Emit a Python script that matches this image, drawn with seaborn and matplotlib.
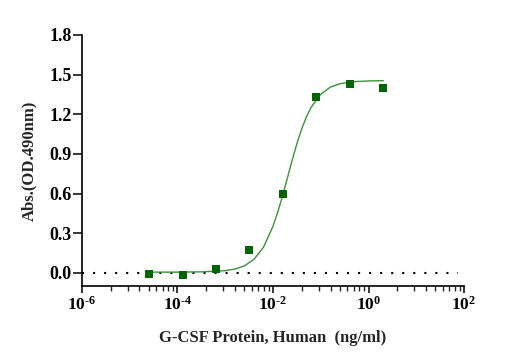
import numpy as np
import pandas as pd
import matplotlib
matplotlib.use("Agg")
import matplotlib.pyplot as plt
import matplotlib.ticker as mticker
import seaborn as sns

# ============================================================
# DATA
# ============================================================

conc_ng_ml = [0.0000256, 0.000128, 0.00064, 0.0032, 0.016, 0.08, 0.4, 2.0]
absorbance = [-0.012, -0.02, 0.03, 0.17, 0.596, 1.33, 1.43, 1.40]

# fitted curve (log10 of ng/ml, absorbance)
curve_log_conc = [-4.6, -4.0, -3.5, -3.0, -2.8, -2.6, -2.4, -2.2, -2.0, -1.9,
                  -1.8, -1.7, -1.6, -1.5, -1.4, -1.3, -1.2, -1.0, -0.8, -0.6,
                  -0.3, 0.0, 0.31]
curve_abs = [0.005, 0.005, 0.007, 0.016, 0.028, 0.052, 0.101, 0.193, 0.352, 0.460,
             0.583, 0.716, 0.850, 0.977, 1.088, 1.181, 1.254, 1.352, 1.405, 1.431,
             1.447, 1.452, 1.454]

y_ticks = [0.0, 0.3, 0.6, 0.9, 1.2, 1.5, 1.8]
x_major = [1e-6, 1e-4, 1e-2, 1e0, 1e2]
x_major_labels = [r"$10^{\text{-6}}$", r"$10^{\text{-4}}$", r"$10^{\text{-2}}$",
                  r"$10^{0}$", r"$10^{2}$"]

X_LABEL = "G-CSF Protein, Human  (ng/ml)"
Y_LABEL = "Abs.(OD.490nm)"

POINT_COLOR = "#046404"
CURVE_COLOR = "#3f8f3f"

# ============================================================
# PLOT
# ============================================================

sns.set_theme(style="ticks")
plt.rcParams["font.family"] = ["Liberation Serif", "DejaVu Serif"]
plt.rcParams["font.weight"] = "bold"
plt.rcParams["mathtext.fontset"] = "custom"
plt.rcParams["mathtext.rm"] = "Liberation Serif:bold"
plt.rcParams["mathtext.it"] = "Liberation Serif:bold"
plt.rcParams["mathtext.bf"] = "Liberation Serif:bold"

points = pd.DataFrame({"conc": conc_ng_ml, "abs": absorbance})
curve = pd.DataFrame({"conc": [10 ** v for v in curve_log_conc], "abs": curve_abs})

fig = plt.figure(figsize=(5.17, 3.61), dpi=100)
ax = fig.add_axes([0.1586, 0.2078, 0.7389, 0.6953])

ax.axhline(0, xmin=0.0, xmax=0.985, color="black", lw=1.5,
           ls=(0, (1, 4.3)), zorder=1)

sns.lineplot(data=curve, x="conc", y="abs", color=CURVE_COLOR, lw=1.0,
             ax=ax, zorder=2, estimator=None, sort=False)
sns.scatterplot(data=points, x="conc", y="abs", marker="s", s=30,
                color=POINT_COLOR, edgecolor=POINT_COLOR, linewidth=0,
                ax=ax, zorder=3)

ax.set_xscale("log")
ax.set_xlim(1e-6, 1e2)
ax.set_ylim(-0.1, 1.8)

ax.xaxis.set_major_locator(mticker.FixedLocator(x_major))
ax.xaxis.set_major_formatter(mticker.FixedFormatter(x_major_labels))
minor = [10.0 ** (2 * k) * m ** 2 for k in range(-3, 1) for m in range(2, 10)]
ax.xaxis.set_minor_locator(mticker.FixedLocator(minor))
ax.xaxis.set_minor_formatter(mticker.NullFormatter())

ax.set_yticks(y_ticks)
ax.set_yticklabels([f"{v:.1f}" for v in y_ticks])

for side in ["top", "right"]:
    ax.spines[side].set_visible(False)
for side in ["left", "bottom"]:
    ax.spines[side].set_linewidth(1.2)
    ax.spines[side].set_color("black")

ax.tick_params(axis="x", which="major", length=5, width=1.1, pad=2,
               labelsize=12.5, colors="black")
ax.tick_params(axis="x", which="minor", length=3.5, width=1.0)
ax.tick_params(axis="y", which="major", length=6.5, width=1.1, pad=0.7,
               labelsize=13, colors="black")

ax.set_xlabel(X_LABEL, fontsize=12, fontweight="bold", labelpad=12)
ax.set_ylabel(Y_LABEL, fontsize=12, fontweight="bold", labelpad=9)

fig.savefig("out.png", dpi=100, facecolor="white")
